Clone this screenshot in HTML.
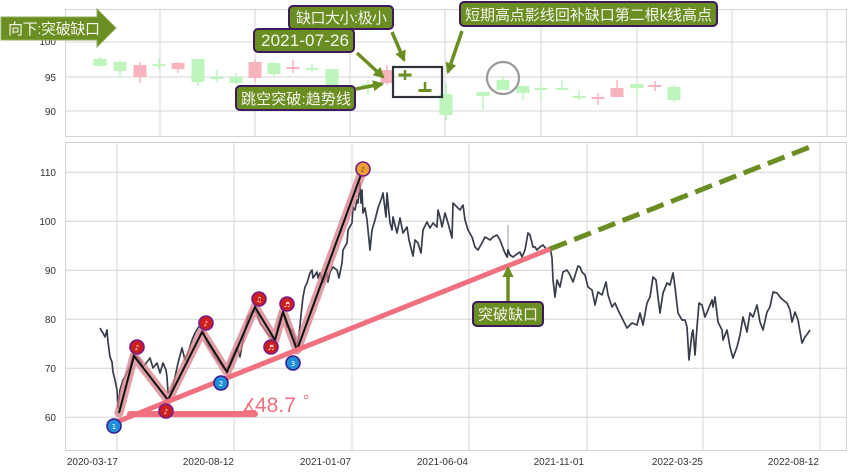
<!DOCTYPE html>
<html><head><meta charset="utf-8"><style>
html,body{margin:0;padding:0;background:#fff;width:853px;height:473px;overflow:hidden}
svg{display:block}
.t{font-family:"Liberation Sans","DejaVu Sans",sans-serif;font-size:10px;fill:#333}
.c{font-family:"Liberation Sans","Noto Sans CJK SC",sans-serif;font-size:15px;fill:#f4f4ec}
</style></head><body>
<svg width="853" height="473" viewBox="0 0 853 473" xmlns="http://www.w3.org/2000/svg">
<defs>
<marker id="ah" viewBox="0 0 10 10" refX="8" refY="5" markerWidth="3.2" markerHeight="3.2" orient="auto-start-reverse" markerUnits="strokeWidth">
<path d="M0,0 L10,5 L0,10 z" fill="#6b8e23"/></marker>
</defs>
<rect width="853" height="473" fill="#fff"/>
<!-- top panel grid -->
<g stroke="#d4d4d4" stroke-width="1" fill="none">
<rect x="65.5" y="9.5" width="781" height="127"/>
<path d="M65 42H846M65 77H846M65 111H846"/>
<path d="M160 9V136M255 9V136M350 9V136M445 9V136M541 9V136M637 9V136M732 9V136M827 9V136"/>
</g>
<text class="t" x="56" y="45" text-anchor="end">100</text>
<text class="t" x="56" y="81" text-anchor="end">95</text>
<text class="t" x="56" y="115" text-anchor="end">90</text>
<!-- candles -->
<g stroke-width="1.5">
<line x1="100" y1="57" x2="100" y2="67" stroke="#bdf5bd"/><rect x="93.5" y="59" width="13" height="7" fill="#bdf5bd" stroke="none"/>
<line x1="120" y1="61" x2="120" y2="76" stroke="#bdf5bd"/><rect x="113.5" y="62" width="13" height="9" fill="#bdf5bd" stroke="none"/>
<line x1="140" y1="62" x2="140" y2="83" stroke="#f8b4be"/><rect x="133.5" y="65" width="13" height="12" fill="#f8b4be" stroke="none"/>
<line x1="159" y1="58" x2="159" y2="69" stroke="#bdf5bd"/><rect x="152.5" y="64" width="13" height="2" fill="#bdf5bd" stroke="none"/>
<line x1="178" y1="62" x2="178" y2="73" stroke="#f8b4be"/><rect x="171.5" y="63" width="13" height="6" fill="#f8b4be" stroke="none"/>
<line x1="198" y1="59" x2="198" y2="86" stroke="#bdf5bd"/><rect x="191.5" y="59" width="13" height="23" fill="#bdf5bd" stroke="none"/>
<line x1="217" y1="70" x2="217" y2="82" stroke="#bdf5bd"/><rect x="210.5" y="77" width="13" height="2" fill="#bdf5bd" stroke="none"/>
<line x1="236" y1="73" x2="236" y2="85" stroke="#bdf5bd"/><rect x="229.5" y="77" width="13" height="6" fill="#bdf5bd" stroke="none"/>
<line x1="255" y1="59" x2="255" y2="82" stroke="#f8b4be"/><rect x="248.5" y="62" width="13" height="16" fill="#f8b4be" stroke="none"/>
<line x1="274" y1="62" x2="274" y2="77" stroke="#bdf5bd"/><rect x="267.5" y="63" width="13" height="11" fill="#bdf5bd" stroke="none"/>
<line x1="293" y1="60" x2="293" y2="73" stroke="#f8b4be"/><rect x="286.5" y="67" width="13" height="2" fill="#f8b4be" stroke="none"/>
<line x1="312" y1="63" x2="312" y2="73" stroke="#bdf5bd"/><rect x="305.5" y="68" width="13" height="2" fill="#bdf5bd" stroke="none"/>
<line x1="332" y1="69" x2="332" y2="88" stroke="#bdf5bd"/><rect x="325.5" y="69" width="13" height="16" fill="#bdf5bd" stroke="none"/>
<line x1="368" y1="80" x2="368" y2="95" stroke="#bdf5bd"/><rect x="361.5" y="84" width="13" height="2" fill="#bdf5bd" stroke="none"/>
<line x1="387" y1="65" x2="387" y2="85" stroke="#f8b4be"/><rect x="380.5" y="70" width="13" height="13" fill="#f8b4be" stroke="none"/>
<line x1="405" y1="70" x2="405" y2="80" stroke="#6b8e23" stroke-width="2.5"/><rect x="398.5" y="73.5" width="13" height="3" fill="#6b8e23" stroke="none"/>
<line x1="425" y1="82" x2="425" y2="92" stroke="#6b8e23" stroke-width="2.5"/><rect x="418.5" y="89" width="13" height="3" fill="#6b8e23" stroke="none"/>
<line x1="446" y1="83" x2="446" y2="120" stroke="#bdf5bd"/><rect x="439.5" y="94" width="13" height="21" fill="#bdf5bd" stroke="none"/>
<line x1="483" y1="92" x2="483" y2="110" stroke="#bdf5bd"/><rect x="476.5" y="92" width="13" height="4" fill="#bdf5bd" stroke="none"/>
<line x1="503" y1="77" x2="503" y2="90" stroke="#bdf5bd"/><rect x="496.5" y="80" width="13" height="10" fill="#bdf5bd" stroke="none"/>
<line x1="523" y1="86" x2="523" y2="100" stroke="#bdf5bd"/><rect x="516.5" y="86" width="13" height="7" fill="#bdf5bd" stroke="none"/>
<line x1="541" y1="85" x2="541" y2="100" stroke="#bdf5bd"/><rect x="534.5" y="88" width="13" height="2" fill="#bdf5bd" stroke="none"/>
<line x1="562" y1="80" x2="562" y2="90" stroke="#bdf5bd"/><rect x="555.5" y="88" width="13" height="2" fill="#bdf5bd" stroke="none"/>
<line x1="579" y1="90" x2="579" y2="100" stroke="#bdf5bd"/><rect x="572.5" y="96" width="13" height="2" fill="#bdf5bd" stroke="none"/>
<line x1="598" y1="93" x2="598" y2="105" stroke="#f8b4be"/><rect x="591.5" y="97" width="13" height="2" fill="#f8b4be" stroke="none"/>
<line x1="617" y1="80" x2="617" y2="97" stroke="#f8b4be"/><rect x="610.5" y="88" width="13" height="9" fill="#f8b4be" stroke="none"/>
<line x1="637" y1="84" x2="637" y2="97" stroke="#bdf5bd"/><rect x="630.5" y="84" width="13" height="4" fill="#bdf5bd" stroke="none"/>
<line x1="655" y1="81" x2="655" y2="91" stroke="#f8b4be"/><rect x="648.5" y="85" width="13" height="2" fill="#f8b4be" stroke="none"/>
<line x1="674" y1="85" x2="674" y2="102" stroke="#bdf5bd"/><rect x="667.5" y="87" width="13" height="13" fill="#bdf5bd" stroke="none"/>
</g>
<!-- main panel grid -->
<g stroke="#d4d4d4" stroke-width="1" fill="none">
<rect x="65.5" y="142.5" width="781" height="308"/>
<path d="M65 172.3H847M65 221.3H847M65 270.3H847M65 319.3H847M65 368.3H847M65 417.3H847"/>
<path d="M117 142V450M234 142V450M352 142V450M469 142V450M587 142V450M703 142V450M820 142V450"/>
</g>
<g class="t" text-anchor="end">
<text x="56" y="176">110</text><text x="56" y="225">100</text><text x="56" y="274">90</text>
<text x="56" y="323">80</text><text x="56" y="372">70</text><text x="56" y="421">60</text>
<text x="118" y="465">2020-03-17</text><text x="234" y="465">2020-08-12</text><text x="351" y="465">2021-01-07</text>
<text x="468" y="465">2021-06-04</text><text x="584" y="465">2021-11-01</text><text x="703" y="465">2022-03-25</text>
<text x="819" y="465">2022-08-12</text>
</g>
<!-- gray spike -->
<path d="M508 258V225" stroke="#aaa" stroke-width="1.2"/>
<!-- price line -->
<polyline fill="none" stroke="#373d4a" stroke-width="1.7" stroke-linejoin="round" points="100,328 101,330 103,333 105,337 107,330 108,342 110,357 112,362 113,372 115,380 117,390 118,408 120,390 123,380 127,373 130,367 133,355 137,357 140,360 143,367 147,362 150,358 153,368 157,363 160,373 163,363 166,370 167,377 168,393 172,390 175,377 178,363 182,348 185,360 188,353 192,340 195,333 198,328 202,323 205,337 208,345 212,350 215,357 220,363 225,370 228,367 232,357 237,347 240,357 243,340 248,317 253,310 257,313 260,323 263,327 267,333 272,338 275,340 280,317 283,312 287,327 292,330 295,338 297,348 299,335 301,315 303,297 305,287 307,283 310,273 312,270 313,278 317,272 318,278 320,273 323,283 327,273 328,282 330,272 333,267 337,270 339,278 342,263 343,250 347,243 348,230 352,223 353,207 355,210 357,200 358,203 360,183 361,203 362,190 363,213 365,208 367,220 370,250 372,230 375,220 378,208 382,197 383,193 386,217 387,193 390,223 392,230 393,217 397,233 400,218 403,233 407,227 409,240 413,256 415,240 418,243 421,253 423,230 427,222 430,228 433,223 437,227 438,210 440,217 442,227 445,213 448,223 452,238 453,203 457,207 460,210 463,205 465,220 468,230 472,237 475,247 478,250 482,243 485,237 490,240 493,237 497,235 500,240 503,248 505,253 507,257 508,250 510,255 513,257 517,254 520,252 522,257 525,250 528,233 530,235 533,247 535,247 537,250 540,247 543,245 547,250 550,247 552,258 553,280 555,297 557,280 560,287 563,272 567,270 570,275 573,282 578,266 580,267 582,272 585,275 588,287 592,290 595,305 598,292 602,295 606,282 608,295 612,307 615,303 618,310 622,318 627,328 632,323 637,325 640,313 643,325 647,303 650,297 653,277 656,280 658,297 660,313 663,293 667,283 670,285 673,273 675,287 678,313 682,320 685,320 687,327 689,360 692,333 693,330 695,355 697,327 699,303 702,305 705,317 708,310 712,300 713,307 715,297 718,322 722,330 723,340 727,330 730,347 733,358 737,347 740,335 743,317 747,332 750,313 753,317 757,305 760,322 763,330 767,312 770,307 773,292 777,293 780,297 783,300 787,303 790,310 792,322 795,312 798,320 802,343 805,337 808,333 810,330"/>
<!-- zigzag band -->
<polyline fill="none" stroke="#d67f8a" stroke-opacity="0.75" stroke-width="9" stroke-linejoin="round" stroke-linecap="round" points="119,413 134,356 168,400 202,332 227,372 255,307 275,340 283,312 297,350 362,172"/>
<polyline fill="none" stroke="#111" stroke-width="2" stroke-linejoin="miter" points="119,413 134,356 168,400 202,332 227,372 255,307 275,340 283,312 297,350 362,172"/>
<!-- trend lines -->
<line x1="114" y1="423" x2="550" y2="249" stroke="#f07080" stroke-width="5" stroke-linecap="round"/>
<line x1="130" y1="414" x2="255" y2="414" stroke="#f07080" stroke-width="6" stroke-linecap="round"/>
<line x1="550" y1="249" x2="810" y2="147" stroke="#6b8e23" stroke-width="5" stroke-dasharray="18 8"/>
<text x="241" y="412" font-family="'DejaVu Sans',sans-serif" font-size="19" fill="#f07080">∡</text>
<text x="255" y="412" font-family="'Liberation Sans',sans-serif" font-size="21" fill="#f07080">48.7</text>
<circle cx="306" cy="397" r="1.8" fill="none" stroke="#f07080" stroke-width="0.9"/>
<!-- markers -->
<g stroke-width="1.6" font-family="'DejaVu Sans',sans-serif" font-size="7" text-anchor="middle">
<g stroke="#7a1a8a" fill="#cc1f1f">
<circle cx="137" cy="347" r="7"/><circle cx="166" cy="411" r="7"/><circle cx="206" cy="323" r="7"/>
<circle cx="259" cy="299" r="7"/><circle cx="271" cy="347" r="7"/><circle cx="287" cy="304" r="7"/>
</g>
<g stroke="#3b1c8c" fill="#1e8fd8">
<circle cx="114" cy="426" r="7"/><circle cx="221" cy="383" r="7"/><circle cx="293" cy="363" r="7"/>
</g>
<circle cx="363" cy="169" r="7" stroke="#7a1a8a" fill="#f0a030"/>
<g fill="#ffe" stroke="none">
<text x="137" y="350">♪</text><text x="166" y="414">♪</text><text x="206" y="326">♪</text>
<text x="259" y="302">♫</text><text x="271" y="350">♬</text><text x="287" y="307">♬</text>
<text x="114" y="429">1</text><text x="221" y="386">2</text><text x="293" y="366">3</text>
</g>
<text x="363" y="172" fill="#333" stroke="none">♪</text>
</g>
<!-- 突破缺口 -->
<line x1="508" y1="302" x2="508" y2="268" stroke="#6b8e23" stroke-width="3.5" marker-end="url(#ah)"/>
<rect x="473" y="302" width="70" height="24" rx="4" fill="#6b8e23" stroke="#3c1a5b" stroke-width="2"/>
<text class="c" x="478" y="319.5" textLength="60">突破缺口</text>
<!-- top annotations -->
<rect x="393" y="67" width="49" height="30" fill="none" stroke="#2e333b" stroke-width="2.2"/>
<circle cx="503" cy="78" r="16" fill="none" stroke="#999" stroke-width="2.2"/>
<g stroke="#6b8e23" stroke-width="3.5" fill="none">
<line x1="392" y1="32" x2="404" y2="60" marker-end="url(#ah)"/>
<line x1="357" y1="53" x2="383" y2="77" marker-end="url(#ah)"/>
<line x1="356" y1="89" x2="382" y2="84" marker-end="url(#ah)"/>
<line x1="462" y1="31" x2="448" y2="72" marker-end="url(#ah)"/>
</g>
<g fill="#6b8e23" stroke="#3c1a5b" stroke-width="2">
<rect x="289" y="6" width="104" height="23" rx="4"/>
<rect x="254" y="29" width="100" height="23" rx="4"/>
<rect x="236" y="86" width="119" height="24" rx="4"/>
<rect x="460" y="2" width="257" height="24" rx="4"/>
</g>
<text class="c" x="296" y="23" textLength="91">缺口大小:极小</text>
<text class="c" x="261" y="46" style="font-size:17px" textLength="88">2021-07-26</text>
<text class="c" x="241" y="104" textLength="110">跳空突破:趋势线</text>
<text class="c" x="465" y="20" textLength="247">短期高点影线回补缺口第二根k线高点</text>
<!-- left arrow label -->
<path d="M1,17 H97 V9 L116,28 L97,47 V40 H1 Z" fill="#6b8e23" stroke="#8fae5a" stroke-width="1"/>
<text class="c" x="8" y="34" textLength="92">向下:突破缺口</text>
</svg>
</body></html>
